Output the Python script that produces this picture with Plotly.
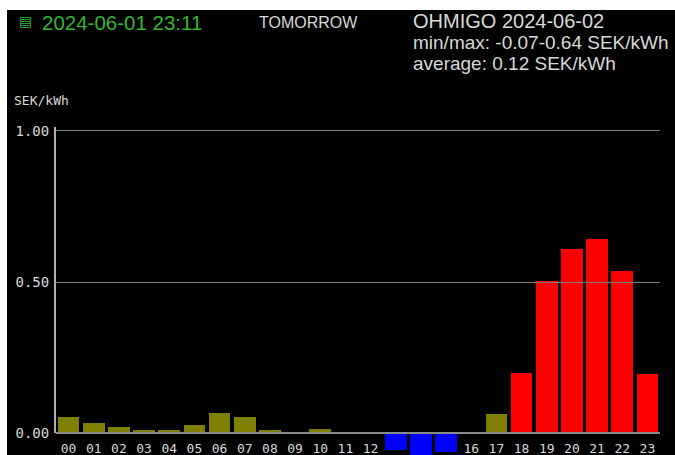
import plotly.graph_objects as go

# ---------------- data ----------------
hours = list(range(24))
hour_labels = ["00", "01", "02", "03", "04", "05", "06", "07", "08", "09", "10", "11",
               "12", "", "", "", "16", "17", "18", "19", "20", "21", "22", "23"]
prices = [0.053, 0.035, 0.020, 0.011, 0.011, 0.027, 0.068, 0.053, 0.011, 0.000, 0.015, 0.006,
          0.000, -0.053, -0.070, -0.060, 0.000, 0.066, 0.200, 0.505, 0.610, 0.642, 0.538, 0.196]
y_tick_vals = [0.0, 0.5, 1.0]
y_tick_text = ["0.00", "0.50", "1.00"]
clock_text = "2024-06-01 23:11"
day_text = "TOMORROW"
title_line1 = "OHMIGO 2024-06-02"
title_line2 = "min/max: -0.07-0.64 SEK/kWh"
title_line3 = "average: 0.12 SEK/kWh"
unit_text = "SEK/kWh"

# ---------------- style ----------------
OLIVE, RED, BLUE = "#808000", "#ff0000", "#0000ff"
colors = [BLUE if p < 0 else (RED if p >= 0.15 else OLIVE) for p in prices]

W, H = 675, 455
ML, MR, MT, MB = 56, 15, 127, 0
PW, PH = W - ML - MR, H - MT - MB
YMIN, YMAX = -0.0711, 1.0132
z = (0 - YMIN) / (YMAX - YMIN)  # paper fraction of the zero line


def fx(px):
    return (px - ML) / PW


def fy(py):
    return (H - MB - py) / PH


fig = go.Figure()
fig.add_trace(go.Bar(x=hours, y=prices, marker=dict(color=colors, line=dict(width=0)),
                     width=0.86, xaxis="x", yaxis="y", showlegend=False, hoverinfo="skip"))
fig.add_trace(go.Scatter(x=[None], y=[None], xaxis="x", yaxis="y2", showlegend=False,
                         hoverinfo="skip", mode="markers"))

mono = "DejaVu Sans Mono"
sans = "Liberation Sans"
txt = "#d8d8d8"

fig.update_layout(
    width=W, height=H,
    margin=dict(l=ML, r=MR, t=MT, b=MB, pad=0, autoexpand=False),
    paper_bgcolor="#000000", plot_bgcolor="rgba(0,0,0,0)",
    bargap=0,
    xaxis=dict(range=[-0.5, 23.5], anchor="free", position=z, domain=[0, 1], automargin=False,
               tickmode="array", tickvals=hours, ticktext=hour_labels,
               showgrid=False, zeroline=False, showline=True, linecolor="#8a8a8a", linewidth=2,
               ticks="", ticklabelstandoff=3,
               tickfont=dict(family=mono, size=13, color=txt), fixedrange=True),
    yaxis=dict(range=[YMIN, YMAX], domain=[0, 1], anchor="x", visible=False, automargin=False,
               fixedrange=True),
    yaxis2=dict(range=[0, YMAX], domain=[z, 1], anchor="x", automargin=False, tickmode="array",
                tickvals=y_tick_vals, ticktext=y_tick_text,
                showgrid=True, gridcolor="#7a7a7a", gridwidth=1, zeroline=False,
                showline=True, linecolor="#b0b0b0", linewidth=2, ticks="",
                ticklabelstandoff=2,
                tickfont=dict(family=mono, size=14, color=txt), fixedrange=True),
)

annots = [
    dict(text="▤", px=17, py=21, font=dict(family="DejaVu Sans", size=14, color="#35b535")),
    dict(text=clock_text, px=40, py=22, font=dict(family=sans, size=20.5, color="#35b535")),
    dict(text=day_text, px=257, py=22, font=dict(family=sans, size=16, color=txt)),
    dict(text=title_line1, px=411, py=21, font=dict(family=sans, size=20, color=txt)),
    dict(text=title_line2, px=411, py=42, font=dict(family=sans, size=19, color=txt)),
    dict(text=title_line3, px=411, py=63, font=dict(family=sans, size=19, color=txt)),
    dict(text=unit_text, px=12, py=100, font=dict(family=mono, size=13, color=txt)),
]
for a in annots:
    fig.add_annotation(text=a["text"], x=fx(a["px"]), y=fy(a["py"]), xref="paper", yref="paper",
                       xanchor="left", yanchor="middle", showarrow=False, font=a["font"])

# white frame border along the top and left of the photographed screen
fig.add_shape(type="rect", xref="paper", yref="paper", x0=fx(-5), x1=fx(W + 5), y0=fy(10), y1=fy(-5),
              fillcolor="#ffffff", line=dict(width=0), layer="above")
fig.add_shape(type="rect", xref="paper", yref="paper", x0=fx(-5), x1=fx(7), y0=fy(H + 5), y1=fy(-5),
              fillcolor="#ffffff", line=dict(width=0), layer="above")

fig.write_html("out.html", post_script="document.body.style.margin='0';",
               config={"displayModeBar": False})
